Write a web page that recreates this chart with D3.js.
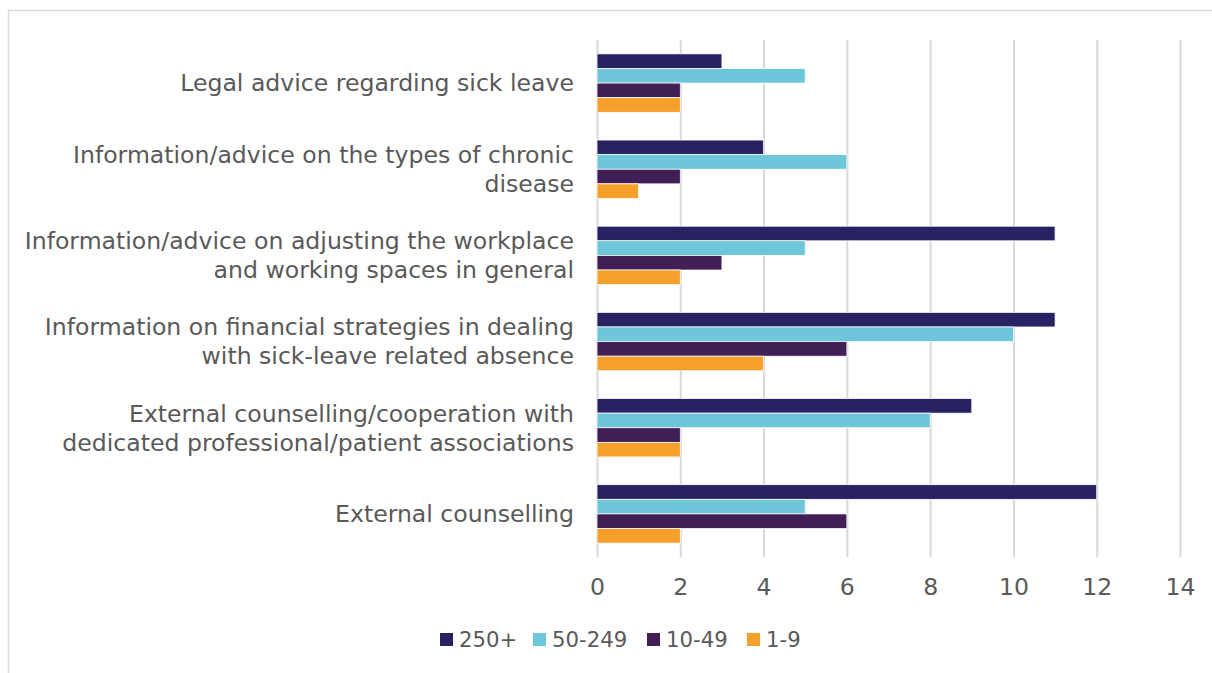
<!DOCTYPE html>
<html><head><meta charset="utf-8">
<script src="https://cdn.jsdelivr.net/npm/d3@7"></script>
<style>body{margin:0;background:#fff}svg{display:block}</style>
</head><body>
<svg id="c" width="1212" height="673"></svg>
<script>
const categories = [
  ["Legal advice regarding sick leave"],
  ["Information/advice on the types of chronic", "disease"],
  ["Information/advice on adjusting the workplace", "and working spaces in general"],
  ["Information on financial strategies in dealing", "with sick-leave related absence"],
  ["External counselling/cooperation with", "dedicated professional/patient associations"],
  ["External counselling"]
];
const seriesNames = ["250+", "50-249", "10-49", "1-9"];
const v250 = [3, 4, 11, 11, 9, 12];
const v50 = [5, 6, 5, 10, 8, 5];
const v10 = [2, 2, 3, 6, 2, 6];
const v1 = [2, 1, 2, 4, 2, 2];
const ticks = [0, 2, 4, 6, 8, 10, 12, 14];
const colors = ["#282262", "#6ec6da", "#421e57", "#f6a02c"];
const seriesVals = [v250, v50, v10, v1];

const svg = d3.select("#c");
const font = "DejaVu Sans";
const probe = svg.append("text").attr("font-family", font).attr("font-size", 20).text("Legal advice regarding sick leave");
const w20 = probe.node().getComputedTextLength();
probe.remove();
const fs = 20 * 394 / w20;

svg.append("path").attr("d", "M8.5,673 V10.5 H1212").attr("fill", "none").attr("stroke", "#d9d9d9").attr("stroke-width", 1.5);

const x = d3.scaleLinear().domain([0, 14]).range([597, 1180]);
const y = d3.scaleBand().domain(d3.range(categories.length)).range([40, 557]).paddingInner(0.322).paddingOuter(0.161);
const ys = d3.scaleBand().domain(d3.range(4)).range([0, y.bandwidth()]);

const gx = svg.append("g").attr("transform", "translate(0,557)")
  .call(d3.axisBottom(x).tickValues(ticks).tickSize(-517).tickFormat(d3.format("d")).tickPadding(14));
gx.select(".domain").remove();
gx.selectAll(".tick line").attr("stroke", "#d9d9d9").attr("stroke-width", 2);
gx.selectAll(".tick text").attr("font-family", font).attr("font-size", fs).attr("fill", "#595959").attr("dy", "0.35em").attr("y", 30);

categories.forEach((c, i) => {
  seriesVals.forEach((vals, s) => {
    svg.append("rect")
      .attr("x", x(0)).attr("y", y(i) + ys(s))
      .attr("width", x(vals[i]) - x(0)).attr("height", ys.bandwidth())
      .attr("fill", colors[s]).attr("stroke", "#ffffff").attr("stroke-width", 0.75);
  });
});

const lh = 29;
categories.forEach((lines, i) => {
  const cy = y(i) + y.bandwidth() / 2;
  const t = svg.append("text").attr("font-family", font).attr("font-size", fs).attr("fill", "#595959")
    .attr("text-anchor", "end");
  lines.forEach((ln, k) => {
    t.append("tspan").attr("x", 574).attr("y", cy + (k - (lines.length - 1) / 2) * lh).attr("dy", "0.35em").text(ln);
  });
});

const legX = [440, 533, 647, 747];
seriesNames.forEach((n, s) => {
  svg.append("rect").attr("x", legX[s]).attr("y", 633).attr("width", 13).attr("height", 13).attr("fill", colors[s]);
  svg.append("text").attr("x", legX[s] + 19).attr("y", 640).attr("dy", "0.35em")
    .attr("font-family", font).attr("font-size", fs * 0.9).attr("fill", "#595959").text(n);
});
</script>
</body></html>
